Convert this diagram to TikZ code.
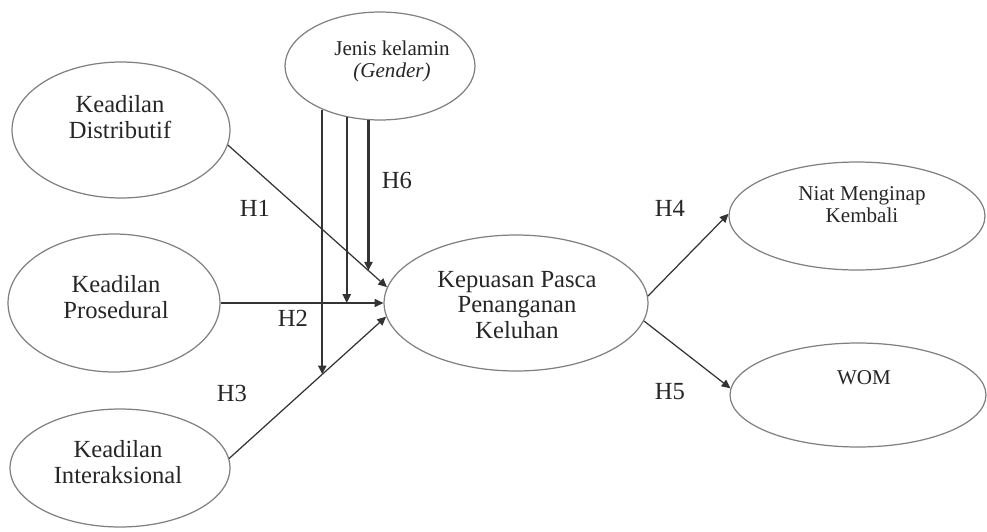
\documentclass[tikz,border=0pt]{standalone}
\usepackage{fontspec}
\setmainfont{Liberation Serif}
\usetikzlibrary{arrows.meta,shapes.geometric,intersections}

\begin{document}
\begin{tikzpicture}[x=0.02cm, y=-0.02cm,
    >={Triangle[length=5pt,width=4.6pt]},
    construct/.style={draw=black!50, line width=0.7pt, ellipse, inner sep=0pt},
    lbl/.style={align=center, text=black!85, font=\fontsize{14}{14.5}\selectfont},
    smalltxt/.style={align=center, text=black!85, font=\fontsize{12}{12.5}\selectfont},
    effect/.style={->, draw=black!80, line width=0.7pt},
    moder/.style={->, draw=black!80, line width=1.2pt}]
    \useasboundingbox (0,0) rectangle (987,531);

    % constructs
    \node[construct, minimum width=4.36cm, minimum height=2.72cm] (dist) at (121,130) {};
    \node[construct, minimum width=4.24cm, minimum height=2.76cm] (pros) at (114,303) {};
    \node[construct, minimum width=4.4cm, minimum height=2.36cm] (inter) at (120,468) {};
    \node[construct, minimum width=3.8cm, minimum height=2.16cm] (gender) at (380,66) {};
    \node[construct, minimum width=5.28cm, minimum height=2.72cm] (kepuasan) at (516,303) {};
    \node[construct, minimum width=5.12cm, minimum height=2.16cm] (niat) at (857,216) {};
    \node[construct, minimum width=5.12cm, minimum height=2.08cm] (wom) at (858,395) {};

    \node[lbl] (dist-t) at (120,117) {Keadilan\\Distributif};
    \node[lbl] (pros-t) at (116,297) {Keadilan\\Prosedural};
    \node[lbl] (inter-t) at (118,462) {Keadilan\\Interaksional};
    \node[smalltxt] (gender-t) at (392,61) {Jenis kelamin\\\textit{(Gender)}};
    \node[lbl] (kepuasan-t) at (517,305) {Kepuasan Pasca\\Penanganan\\Keluhan};
    \node[smalltxt] (niat-t) at (862,205) {Niat Menginap\\Kembali};
    \node[smalltxt] (wom-t) at (864,378) {WOM};

    % hypotheses
    \draw[effect, name path=h1line] (dist.352) -- (kepuasan.173);
    \draw[effect, name path=h2line] (pros.east) -- (kepuasan.west);
    \draw[effect, name path=h3line] (inter.5) -- (kepuasan.186);
    \draw[effect] (kepuasan.3) -- (niat.179);
    \draw[effect] (kepuasan.352) -- (wom.177);

    % moderation by gender
    \path[name path=v1] (gender.217) -- ++(0,450);
    \path[name path=v2] (gender.237) -- ++(0,450);
    \path[name path=v3] (gender.258) -- ++(0,450);
    \path[name intersections={of=v1 and h3line, by=m1}];
    \path[name intersections={of=v2 and h2line, by=m2}];
    \path[name intersections={of=v3 and h1line, by=m3}];
    \draw[moder] (gender.217) -- (m1);
    \draw[moder] (gender.237) -- (m2);
    \draw[moder] (gender.258) -- (m3);

    \node[lbl] (h1) at (255,208) {H1};
    \node[lbl] (h2) at (293,318) {H2};
    \node[lbl] (h3) at (232,393) {H3};
    \node[lbl] (h4) at (670,208) {H4};
    \node[lbl] (h5) at (670,392) {H5};
    \node[lbl] (h6) at (397,180) {H6};
\end{tikzpicture}
\end{document}
